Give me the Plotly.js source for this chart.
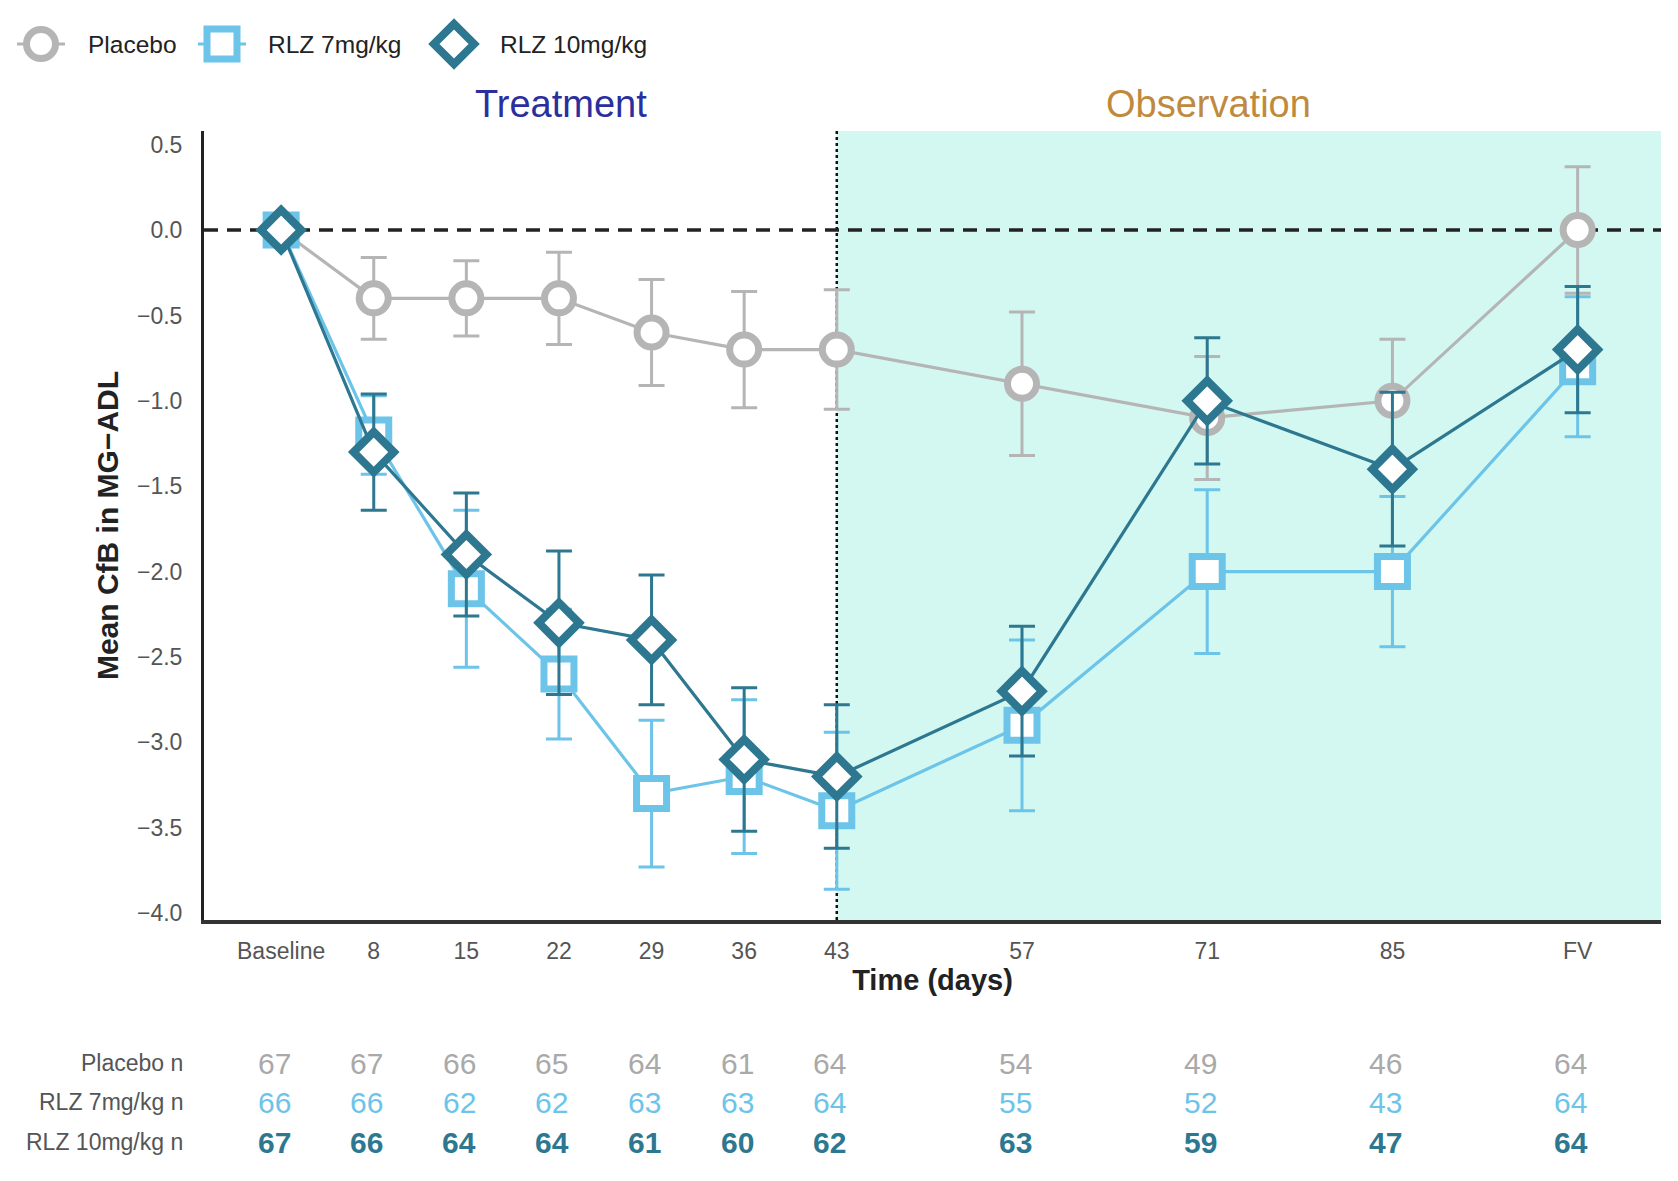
<!DOCTYPE html>
<html>
<head>
<meta charset="utf-8">
<script src="https://cdn.plot.ly/plotly-3.0.1.min.js"></script>
<style>html,body{margin:0;padding:0;background:#fff;}#chart{width:1678px;height:1181px;}</style>
</head>
<body>
<div id="chart"></div>
<script>
// ---------------- data ----------------
const days = [1, 8, 15, 22, 29, 36, 43, 57, 71, 85, 99];
const tickLabels = ['Baseline', '8', '15', '22', '29', '36', '43', '57', '71', '85', 'FV'];
const seriesNames = ['Placebo', 'RLZ 7mg/kg', 'RLZ 10mg/kg'];

const placeboMean = [0.0, -0.4, -0.4, -0.4, -0.6, -0.7, -0.7, -0.9, -1.1, -1.0, 0.0];
const placeboErr  = [null, 0.24, 0.22, 0.27, 0.31, 0.34, 0.35, 0.42, 0.36, 0.36, 0.37];
const rlz7Mean    = [0.0, -1.2, -2.1, -2.6, -3.3, -3.2, -3.4, -2.9, -2.0, -2.0, -0.8];
const rlz7Err     = [null, 0.23, 0.46, 0.38, 0.43, 0.45, 0.46, 0.50, 0.48, 0.44, 0.41];
const rlz10Mean   = [0.0, -1.3, -1.9, -2.3, -2.4, -3.1, -3.2, -2.7, -1.0, -1.4, -0.7];
const rlz10Err    = [null, 0.34, 0.36, 0.42, 0.38, 0.42, 0.42, 0.38, 0.37, 0.45, 0.37];

const placeboN = [67, 67, 66, 65, 64, 61, 64, 54, 49, 46, 64];
const rlz7N    = [66, 66, 62, 62, 63, 63, 64, 55, 52, 43, 64];
const rlz10N   = [67, 66, 64, 64, 61, 60, 62, 63, 59, 47, 64];
const nRowLabels = ['Placebo n', 'RLZ 7mg/kg n', 'RLZ 10mg/kg n'];

const yTicks = [0.5, 0.0, -0.5, -1.0, -1.5, -2.0, -2.5, -3.0, -3.5, -4.0];
const treatmentEndDay = 43;
const phaseLabels = ['Treatment', 'Observation'];

// ---------------- styles ----------------
const W = 1678, H = 1181;
const FONT = 'Liberation Sans, Arial, Helvetica, sans-serif';
const colors = ['#b5b5b5', '#6cc4e9', '#2d7890'];
const nColors = ['#a9a9a9', '#6cc4e9', '#2d7890'];
const symbols = ['circle', 'square', 'diamond'];
const msize = [29, 30, 31];
const mline = [7, 7, 8];
const box = {left: 204, right: 1661, top: 131, bottom: 920};
const px2fx = p => p / W;
const px2fy = p => 1 - p / H;

const means = [placeboMean, rlz7Mean, rlz10Mean];
const errs = [placeboErr, rlz7Err, rlz10Err];
const ns = [placeboN, rlz7N, rlz10N];

const traces = [];
for (let i = 0; i < 3; i++) {
  traces.push({
    type: 'scatter', mode: 'lines+markers', name: seriesNames[i],
    x: days, y: means[i], xaxis: 'x', yaxis: 'y',
    line: {color: colors[i], width: 3.2},
    marker: {symbol: symbols[i], size: msize[i], color: '#ffffff', line: {color: colors[i], width: mline[i]}},
    error_y: {type: 'data', array: errs[i], visible: true, color: colors[i], thickness: 3, width: 13},
    cliponaxis: false, showlegend: false, hoverinfo: 'x+y+name'
  });
}

// custom legend (large keys) on an auxiliary subplot in the top strip
const legendPos = [{cx: 41, tx: 86}, {cx: 222, tx: 266}, {cx: 454, tx: 498}];
const legendY = 44;
for (let i = 0; i < 3; i++) {
  const c = legendPos[i].cx;
  traces.push({
    type: 'scatter', mode: 'lines+markers', x: [c - 24, c, c + 24], y: [legendY, legendY, legendY],
    xaxis: 'x2', yaxis: 'y2', showlegend: false, hoverinfo: 'skip', cliponaxis: false,
    line: {color: colors[i], width: 3.2},
    marker: {symbol: symbols[i], size: msize[i], color: '#ffffff', opacity: [0, 1, 0], line: {color: colors[i], width: mline[i]}}
  });
}

const annotations = [];
// legend labels
for (let i = 0; i < 3; i++) {
  annotations.push({xref: 'x2', yref: 'y2', x: legendPos[i].tx, y: legendY, text: seriesNames[i], showarrow: false,
    xanchor: 'left', yanchor: 'middle', font: {family: FONT, size: 24.5, color: '#222'}});
}
// phase labels
annotations.push({xref: 'paper', yref: 'paper', x: px2fx(561), y: px2fy(104), text: phaseLabels[0], showarrow: false,
  xanchor: 'center', yanchor: 'middle', font: {family: FONT, size: 38, color: '#2b2f9e'}});
annotations.push({xref: 'paper', yref: 'paper', x: px2fx(1208), y: px2fy(104), text: phaseLabels[1], showarrow: false,
  xanchor: 'center', yanchor: 'middle', font: {family: FONT, size: 38, color: '#c08a3e'}});
// n table
const rowY = [1063, 1102, 1142];
for (let r = 0; r < 3; r++) {
  annotations.push({xref: 'paper', yref: 'paper', x: px2fx(185), y: px2fy(rowY[r]), text: nRowLabels[r], showarrow: false,
    xanchor: 'right', yanchor: 'middle', font: {family: FONT, size: 23, color: '#555'}});
  for (let k = 0; k < days.length; k++) {
    annotations.push({xref: 'x', yref: 'paper', x: days[k], xshift: -7, y: px2fy(rowY[r]),
      text: r === 2 ? '<b>' + ns[r][k] + '</b>' : String(ns[r][k]), showarrow: false,
      xanchor: 'center', yanchor: 'middle', font: {family: FONT, size: 30, color: nColors[r]}});
  }
}

const shapes = [
  {type: 'rect', xref: 'x', yref: 'paper', x0: treatmentEndDay, x1: 200, y0: px2fy(box.bottom), y1: px2fy(box.top),
   fillcolor: '#d3f8f1', line: {width: 0}, layer: 'below'},
  {type: 'line', xref: 'x', yref: 'paper', x0: treatmentEndDay, x1: treatmentEndDay, y0: px2fy(box.bottom), y1: px2fy(box.top),
   line: {color: '#111', width: 2.5, dash: 'dot'}, layer: 'below'},
  {type: 'line', xref: 'paper', yref: 'y', x0: px2fx(box.left), x1: px2fx(box.right), y0: 0, y1: 0,
   line: {color: '#222', width: 3.5, dash: '14px,9px'}, layer: 'below'}
];

const layout = {
  width: W, height: H,
  margin: {l: 0, r: 0, t: 0, b: 0, pad: 0},
  paper_bgcolor: '#ffffff', plot_bgcolor: 'rgba(0,0,0,0)',
  font: {family: FONT, color: '#333'},
  showlegend: false,
  xaxis: {
    domain: [px2fx(box.left), px2fx(box.right)], anchor: 'y',
    range: [-4.83, 105.3], tickmode: 'array', tickvals: days, ticktext: tickLabels,
    showgrid: false, zeroline: false, showline: true, linecolor: '#333', linewidth: 4,
    ticks: '', ticklabelstandoff: 7, tickfont: {family: FONT, size: 23, color: '#555'},
    title: {text: 'Time (days)', standoff: 5, font: {family: FONT, size: 29, color: '#222', weight: 'bold'}},
    fixedrange: true
  },
  yaxis: {
    domain: [px2fy(box.bottom), px2fy(box.top)], anchor: 'x',
    range: [-4.04, 0.58], tickmode: 'array', tickvals: yTicks, tickformat: '.1f',
    showgrid: false, zeroline: false, showline: true, linecolor: '#222', linewidth: 3,
    ticks: '', ticklabelstandoff: 14, tickfont: {family: FONT, size: 23, color: '#555'},
    title: {text: 'Mean CfB in MG\u2212ADL', standoff: 10, font: {family: FONT, size: 30, color: '#222', weight: 'bold'}},
    fixedrange: true
  },
  xaxis2: {domain: [0, 0.5], anchor: 'y2', range: [0, 839], visible: false, fixedrange: true},
  yaxis2: {domain: [px2fy(90), 1], anchor: 'x2', range: [90, 0], visible: false, fixedrange: true},
  shapes: shapes,
  annotations: annotations
};

Plotly.newPlot('chart', traces, layout, {displayModeBar: false, staticPlot: true});
</script>
</body>
</html>
